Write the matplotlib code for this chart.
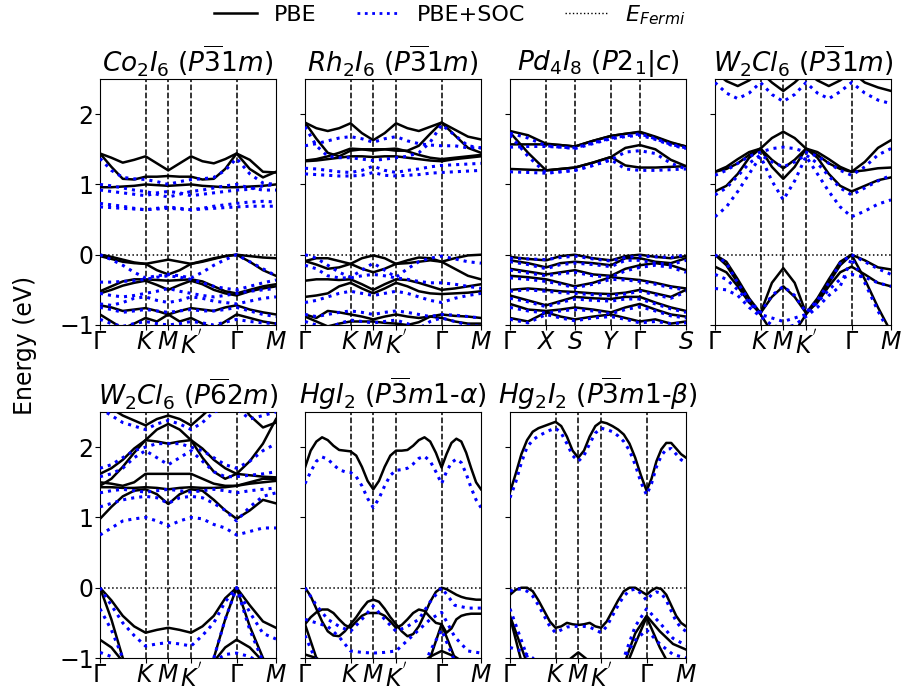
"""Band structures (PBE vs PBE+SOC) of seven layered halides, one panel each."""

import matplotlib.pyplot as plt
from matplotlib.lines import Line2D

# k-path sample positions: hexagonal G-K-M-K'-G-M and rectangular G-X-S-Y-G-S
HEX_K = [0, 0.25, 0.5, 0.75, 1, 1.25, 1.5, 1.75, 2, 2.25, 2.5, 2.75, 3, 3.29, 3.58, 3.866]
HEX_K_FINE = [0, 0.125, 0.25, 0.375, 0.5, 0.625, 0.75, 0.875, 1,
              1.125, 1.25, 1.375, 1.5, 1.625, 1.75, 1.875, 2,
              2.125, 2.25, 2.375, 2.5, 2.625, 2.75, 2.875, 3,
              3.108, 3.217, 3.325, 3.433, 3.541, 3.65, 3.758, 3.866]
HEX_TICKS = [0, 1, 1.5, 2, 3, 3.866]
HEX_LABELS = [r"$\Gamma$", r"$K$", r"$M$", r"$K^{'}$", r"$\Gamma$", r"$M$"]
RECT_K = [0, 0.5, 1, 1.4, 1.8, 2.3, 2.8, 3.2, 3.6, 4.03, 4.46, 4.88]
RECT_TICKS = [0, 1, 1.8, 2.8, 3.6, 4.88]
RECT_LABELS = [r"$\Gamma$", r"$X$", r"$S$", r"$Y$", r"$\Gamma$", r"$S$"]

# Co2I6 (P-31m)
CO2I6_PBE = [
    [1.44, 1.38, 1.31, 1.35, 1.40, 1.30, 1.20, 1.30, 1.40, 1.33, 1.30, 1.36, 1.44, 1.35, 1.18, 1.17],
    [1.44, 1.25, 1.08, 1.07, 1.11, 1.11, 1.12, 1.11, 1.11, 1.07, 1.08, 1.22, 1.44, 1.22, 1.10, 1.18],
    [0.96, 0.96, 0.97, 0.98, 1.00, 0.99, 0.98, 0.99, 1.00, 0.98, 0.97, 0.96, 0.96, 0.97, 0.98, 1.00],
    [0.00, -0.03, -0.07, -0.11, -0.13, -0.10, -0.07, -0.10, -0.13, -0.10, -0.06, -0.02, 0.00, -0.02, -0.04, -0.05],
    [-0.02, -0.06, -0.10, -0.12, -0.13, -0.22, -0.28, -0.22, -0.13, -0.09, -0.05, -0.02, 0.00, -0.10, -0.22, -0.30],
    [-0.52, -0.45, -0.38, -0.35, -0.35, -0.36, -0.37, -0.36, -0.35, -0.38, -0.45, -0.52, -0.55, -0.50, -0.45, -0.42],
    [-0.55, -0.50, -0.44, -0.40, -0.37, -0.43, -0.50, -0.43, -0.37, -0.42, -0.50, -0.55, -0.58, -0.52, -0.48, -0.45],
    [-0.72, -0.75, -0.80, -0.78, -0.76, -0.80, -0.85, -0.80, -0.76, -0.78, -0.80, -0.75, -0.72, -0.78, -0.82, -0.85],
    [-0.85, -0.95, -1.05, -0.98, -0.90, -0.95, -0.85, -0.95, -0.90, -0.98, -1.05, -0.95, -0.85, -0.90, -0.95, -0.98],
]
CO2I6_SOC = [
    [1.37, 1.20, 1.10, 1.08, 1.07, 1.04, 1.00, 1.04, 1.07, 1.08, 1.10, 1.20, 1.37, 1.15, 1.02, 1.00],
    [1.00, 0.98, 0.95, 0.92, 0.90, 0.86, 0.82, 0.86, 0.90, 0.92, 0.95, 0.98, 1.00, 0.95, 0.92, 0.92],
    [0.92, 0.90, 0.88, 0.86, 0.84, 0.88, 0.90, 0.88, 0.84, 0.86, 0.88, 0.90, 0.92, 0.93, 0.98, 1.00],
    [0.73, 0.71, 0.69, 0.66, 0.64, 0.66, 0.68, 0.66, 0.64, 0.66, 0.69, 0.71, 0.73, 0.75, 0.76, 0.75],
    [0.68, 0.67, 0.66, 0.65, 0.64, 0.65, 0.66, 0.65, 0.64, 0.65, 0.66, 0.67, 0.68, 0.69, 0.69, 0.69],
    [0.00, -0.07, -0.15, -0.25, -0.33, -0.30, -0.28, -0.30, -0.33, -0.25, -0.15, -0.07, 0.00, -0.10, -0.20, -0.30],
    [-0.39, -0.39, -0.38, -0.37, -0.35, -0.32, -0.30, -0.32, -0.35, -0.40, -0.45, -0.48, -0.50, -0.45, -0.40, -0.36],
    [-0.55, -0.58, -0.60, -0.58, -0.55, -0.52, -0.48, -0.52, -0.55, -0.58, -0.60, -0.58, -0.55, -0.52, -0.50, -0.48],
    [-0.70, -0.72, -0.68, -0.62, -0.60, -0.65, -0.68, -0.65, -0.60, -0.62, -0.66, -0.68, -0.70, -0.66, -0.62, -0.60],
    [-0.75, -0.78, -0.82, -0.80, -0.78, -0.80, -0.82, -0.80, -0.78, -0.80, -0.80, -0.78, -0.75, -0.80, -0.85, -0.88],
    [-0.92, -0.98, -1.02, -0.98, -0.95, -0.98, -1.00, -0.98, -0.95, -0.97, -1.00, -0.96, -0.92, -0.95, -0.97, -0.98],
]

# Rh2I6 (P-31m)
RH2I6_PBE = [
    [1.88, 1.80, 1.76, 1.80, 1.87, 1.73, 1.63, 1.73, 1.87, 1.80, 1.76, 1.82, 1.88, 1.78, 1.68, 1.64],
    [1.88, 1.65, 1.45, 1.40, 1.48, 1.50, 1.50, 1.50, 1.48, 1.48, 1.55, 1.72, 1.88, 1.70, 1.52, 1.45],
    [1.34, 1.36, 1.40, 1.45, 1.51, 1.50, 1.48, 1.50, 1.51, 1.47, 1.42, 1.38, 1.36, 1.38, 1.40, 1.42],
    [1.33, 1.34, 1.36, 1.38, 1.40, 1.40, 1.39, 1.40, 1.40, 1.38, 1.36, 1.34, 1.33, 1.36, 1.38, 1.40],
    [-0.09, -0.05, -0.05, -0.09, -0.13, -0.05, -0.01, -0.05, -0.13, -0.12, -0.10, -0.08, -0.10, -0.05, -0.01, 0.00],
    [-0.09, -0.14, -0.20, -0.18, -0.13, -0.20, -0.25, -0.20, -0.13, -0.08, -0.04, -0.05, -0.10, -0.20, -0.30, -0.35],
    [-0.37, -0.35, -0.35, -0.36, -0.35, -0.42, -0.50, -0.42, -0.35, -0.36, -0.40, -0.45, -0.50, -0.48, -0.45, -0.42],
    [-0.60, -0.58, -0.55, -0.45, -0.40, -0.48, -0.55, -0.48, -0.40, -0.45, -0.52, -0.55, -0.56, -0.55, -0.54, -0.52],
    [-0.85, -0.90, -0.80, -0.82, -0.85, -0.88, -0.92, -0.88, -0.85, -0.88, -0.90, -0.88, -0.85, -0.87, -0.88, -0.90],
    [-0.88, -0.95, -1.02, -0.98, -0.95, -0.95, -0.95, -0.97, -0.98, -1.00, -0.96, -0.88, -0.90, -0.95, -0.98, -0.98],
]
RH2I6_SOC = [
    [1.82, 1.55, 1.40, 1.38, 1.38, 1.36, 1.34, 1.36, 1.38, 1.40, 1.45, 1.60, 1.85, 1.70, 1.55, 1.52],
    [1.55, 1.58, 1.62, 1.66, 1.68, 1.65, 1.60, 1.65, 1.68, 1.62, 1.58, 1.56, 1.55, 1.55, 1.52, 1.52],
    [1.23, 1.22, 1.20, 1.18, 1.17, 1.20, 1.26, 1.20, 1.17, 1.20, 1.22, 1.25, 1.27, 1.28, 1.29, 1.30],
    [1.15, 1.14, 1.13, 1.12, 1.12, 1.13, 1.17, 1.13, 1.12, 1.13, 1.14, 1.16, 1.17, 1.18, 1.19, 1.20],
    [0.00, -0.05, -0.15, -0.25, -0.32, -0.22, -0.12, -0.22, -0.32, -0.20, -0.10, -0.05, -0.02, -0.06, -0.10, -0.12],
    [-0.15, -0.20, -0.30, -0.33, -0.33, -0.30, -0.28, -0.30, -0.33, -0.35, -0.38, -0.40, -0.40, -0.42, -0.45, -0.48],
    [-0.68, -0.65, -0.60, -0.55, -0.52, -0.55, -0.58, -0.55, -0.52, -0.55, -0.60, -0.65, -0.68, -0.62, -0.58, -0.55],
    [-0.85, -0.88, -0.85, -0.82, -0.80, -0.82, -0.85, -0.82, -0.80, -0.82, -0.85, -0.88, -0.85, -0.86, -0.88, -0.90],
    [-0.95, -1.00, -1.05, -0.98, -0.93, -0.95, -0.97, -0.95, -0.93, -0.98, -1.05, -0.95, -0.90, -0.95, -1.00, -1.02],
]

# Pd4I8 (P2_1/c), rectangular path
PD4I8_PBE = [
    [1.76, 1.70, 1.58, 1.56, 1.54, 1.62, 1.69, 1.72, 1.75, 1.68, 1.60, 1.54],
    [1.57, 1.57, 1.57, 1.56, 1.54, 1.62, 1.69, 1.72, 1.74, 1.67, 1.59, 1.54],
    [1.74, 1.45, 1.20, 1.22, 1.24, 1.31, 1.39, 1.52, 1.56, 1.50, 1.35, 1.26],
    [1.22, 1.21, 1.20, 1.22, 1.24, 1.31, 1.39, 1.27, 1.24, 1.24, 1.25, 1.26],
    [-0.03, -0.06, -0.08, -0.02, 0.00, -0.05, -0.08, -0.02, 0.00, -0.03, -0.05, -0.02],
    [-0.08, -0.12, -0.18, -0.12, -0.10, -0.12, -0.15, -0.05, -0.05, -0.10, -0.12, -0.05],
    [-0.20, -0.24, -0.28, -0.25, -0.22, -0.28, -0.30, -0.20, -0.15, -0.12, -0.15, -0.22],
    [-0.30, -0.32, -0.35, -0.40, -0.45, -0.40, -0.32, -0.34, -0.36, -0.40, -0.45, -0.48],
    [-0.50, -0.48, -0.50, -0.52, -0.53, -0.55, -0.56, -0.54, -0.50, -0.55, -0.60, -0.50],
    [-0.58, -0.65, -0.72, -0.66, -0.60, -0.62, -0.63, -0.60, -0.60, -0.68, -0.75, -0.80],
    [-0.70, -0.78, -0.80, -0.78, -0.75, -0.78, -0.82, -0.75, -0.70, -0.78, -0.85, -0.88],
    [-0.90, -0.95, -0.82, -0.88, -0.92, -0.88, -0.85, -0.90, -0.95, -0.92, -0.98, -0.95],
]
PD4I8_SOC = [
    [1.73, 1.66, 1.55, 1.53, 1.52, 1.59, 1.66, 1.69, 1.72, 1.65, 1.57, 1.52],
    [1.53, 1.54, 1.54, 1.53, 1.51, 1.58, 1.65, 1.68, 1.70, 1.64, 1.56, 1.51],
    [1.70, 1.40, 1.16, 1.18, 1.20, 1.27, 1.35, 1.46, 1.48, 1.44, 1.30, 1.22],
    [1.18, 1.17, 1.16, 1.18, 1.20, 1.27, 1.35, 1.22, 1.20, 1.20, 1.21, 1.22],
    [-0.05, -0.06, -0.07, -0.04, -0.02, -0.06, -0.09, -0.04, -0.02, -0.03, -0.04, 0.00],
    [-0.10, -0.14, -0.20, -0.14, -0.12, -0.14, -0.17, -0.08, -0.08, -0.12, -0.14, -0.08],
    [-0.22, -0.26, -0.30, -0.27, -0.25, -0.30, -0.32, -0.23, -0.18, -0.15, -0.18, -0.25],
    [-0.33, -0.35, -0.38, -0.42, -0.47, -0.42, -0.35, -0.36, -0.38, -0.42, -0.47, -0.50],
    [-0.52, -0.50, -0.52, -0.54, -0.55, -0.57, -0.58, -0.56, -0.52, -0.57, -0.62, -0.53],
    [-0.62, -0.67, -0.74, -0.68, -0.63, -0.65, -0.66, -0.63, -0.63, -0.70, -0.77, -0.82],
    [-0.75, -0.80, -0.83, -0.80, -0.78, -0.80, -0.84, -0.78, -0.74, -0.80, -0.87, -0.90],
    [-0.92, -0.97, -0.85, -0.90, -0.94, -0.90, -0.88, -0.92, -0.97, -0.95, -0.98, -0.97],
]

# W2Cl6 (P-31m)
W2CL6_A_PBE = [
    [2.60, 2.47, 2.40, 2.48, 2.60, 2.45, 2.33, 2.45, 2.60, 2.48, 2.40, 2.48, 2.60, 2.45, 2.38, 2.33],
    [1.18, 1.25, 1.36, 1.46, 1.51, 1.66, 1.75, 1.66, 1.51, 1.46, 1.36, 1.25, 1.18, 1.32, 1.52, 1.63],
    [1.18, 1.22, 1.30, 1.42, 1.51, 1.35, 1.23, 1.35, 1.51, 1.42, 1.30, 1.22, 1.18, 1.20, 1.23, 1.24],
    [0.90, 0.98, 1.15, 1.38, 1.51, 1.25, 1.08, 1.25, 1.51, 1.38, 1.15, 0.98, 0.90, 0.98, 1.06, 1.10],
    [0.00, -0.10, -0.35, -0.62, -0.83, -0.40, -0.19, -0.40, -0.83, -0.62, -0.35, -0.10, 0.00, -0.08, -0.18, -0.21],
    [-0.17, -0.25, -0.45, -0.68, -0.83, -0.60, -0.45, -0.60, -0.83, -0.68, -0.45, -0.25, -0.17, -0.28, -0.40, -0.45],
    [0.00, -0.15, -0.40, -0.65, -0.85, -1.10, -1.25, -1.10, -0.85, -0.65, -0.40, -0.15, 0.00, -0.35, -0.75, -1.10],
]
W2CL6_A_SOC = [
    [2.45, 2.30, 2.22, 2.30, 2.45, 2.28, 2.18, 2.28, 2.45, 2.30, 2.22, 2.32, 2.45, 2.30, 2.20, 2.15],
    [1.13, 1.20, 1.30, 1.40, 1.46, 1.51, 1.53, 1.51, 1.46, 1.40, 1.30, 1.20, 1.13, 1.25, 1.42, 1.51],
    [0.85, 0.95, 1.12, 1.30, 1.42, 1.32, 1.25, 1.32, 1.42, 1.30, 1.12, 0.95, 0.85, 0.95, 1.05, 1.13],
    [0.54, 0.68, 0.90, 1.15, 1.40, 1.05, 0.78, 1.05, 1.40, 1.15, 0.90, 0.68, 0.54, 0.62, 0.72, 0.78],
    [0.00, -0.12, -0.40, -0.65, -0.82, -0.58, -0.45, -0.58, -0.82, -0.65, -0.40, -0.12, 0.00, -0.10, -0.20, -0.28],
    [-0.28, -0.35, -0.50, -0.68, -0.85, -0.90, -0.95, -0.90, -0.85, -0.68, -0.50, -0.35, -0.28, -0.32, -0.40, -0.45],
    [-0.48, -0.50, -0.58, -0.75, -0.88, -1.00, -1.05, -1.00, -0.88, -0.75, -0.58, -0.45, -0.05, -0.40, -0.80, -1.15],
]

# W2Cl6 (P-62m)
W2CL6_B_PBE = [
    [2.60, 2.55, 2.45, 2.38, 2.31, 2.40, 2.45, 2.40, 2.31, 2.45, 2.60, 2.70, 2.70, 2.45, 2.28, 2.35],
    [1.62, 1.70, 1.82, 1.98, 2.10, 2.25, 2.33, 2.25, 2.10, 1.98, 1.82, 1.70, 1.62, 1.80, 2.05, 2.40],
    [1.45, 1.55, 1.72, 1.92, 2.10, 2.08, 2.05, 2.08, 2.10, 1.85, 1.65, 1.55, 1.62, 1.60, 1.58, 1.57],
    [1.50, 1.48, 1.45, 1.50, 1.62, 1.62, 1.62, 1.62, 1.62, 1.55, 1.48, 1.45, 1.45, 1.50, 1.55, 1.55],
    [1.43, 1.43, 1.42, 1.42, 1.43, 1.42, 1.40, 1.42, 1.43, 1.42, 1.42, 1.43, 1.45, 1.48, 1.50, 1.52],
    [0.98, 1.15, 1.30, 1.38, 1.40, 1.33, 1.19, 1.33, 1.40, 1.38, 1.25, 1.10, 0.98, 1.10, 1.25, 1.20],
    [0.00, -0.18, -0.40, -0.55, -0.64, -0.60, -0.57, -0.60, -0.64, -0.55, -0.40, -0.15, 0.00, -0.25, -0.48, -0.57],
    [0.00, -0.45, -1.00, -1.30, -1.50, -1.50, -1.50, -1.50, -1.50, -1.30, -1.00, -0.45, 0.00, -0.55, -1.00, -1.30],
    [-0.74, -0.85, -1.05, -1.20, -1.30, -1.30, -1.30, -1.30, -1.30, -1.20, -1.05, -0.85, -0.74, -0.85, -1.05, -1.20],
]
W2CL6_B_SOC = [
    [2.55, 2.45, 2.35, 2.30, 2.25, 2.33, 2.38, 2.33, 2.25, 2.35, 2.50, 2.55, 2.55, 2.40, 2.45, 2.50],
    [1.70, 1.75, 1.85, 1.95, 2.00, 2.05, 2.05, 2.05, 2.00, 1.95, 1.85, 1.75, 1.70, 1.80, 1.95, 2.05],
    [1.58, 1.62, 1.70, 1.85, 1.95, 1.85, 1.75, 1.85, 1.95, 1.80, 1.65, 1.58, 1.58, 1.60, 1.62, 1.65],
    [1.35, 1.38, 1.40, 1.38, 1.36, 1.38, 1.40, 1.38, 1.36, 1.38, 1.40, 1.38, 1.35, 1.38, 1.40, 1.42],
    [1.15, 1.20, 1.25, 1.28, 1.30, 1.28, 1.20, 1.28, 1.30, 1.28, 1.20, 1.10, 0.95, 1.15, 1.30, 1.35],
    [0.75, 0.85, 0.95, 0.98, 1.00, 0.95, 0.88, 0.95, 1.00, 0.98, 0.90, 0.85, 0.75, 0.80, 0.85, 0.85],
    [0.00, -0.25, -0.50, -0.68, -0.83, -0.80, -0.78, -0.80, -0.83, -0.68, -0.50, -0.20, 0.00, -0.35, -0.65, -0.73],
    [-0.30, -0.60, -1.00, -1.30, -1.50, -1.50, -1.50, -1.50, -1.50, -1.30, -1.00, -0.45, 0.00, -0.60, -1.05, -1.30],
    [-0.92, -0.98, -1.20, -1.30, -1.30, -1.30, -1.30, -1.30, -1.30, -1.20, -1.05, -0.95, -0.93, -0.98, -1.10, -1.20],
]

# HgI2 (P-3m1, alpha): outer bands on the fine k grid, deeper ones on the coarse grid
HGI2_PBE_FINE = [
    [1.71, 1.95, 2.08, 2.14, 2.10, 2.02, 1.96, 1.95, 1.94, 1.88, 1.72, 1.52, 1.40, 1.52, 1.72, 1.88, 1.95,
     1.95, 1.96, 2.02, 2.10, 2.14, 2.08, 1.92, 1.71, 1.90, 2.06, 2.12, 2.08, 1.92, 1.70, 1.50, 1.40],
    [0.00, -0.12, -0.30, -0.48, -0.62, -0.68, -0.69, -0.62, -0.52, -0.42, -0.30, -0.20, -0.17, -0.20, -0.30, -0.42, -0.52,
     -0.62, -0.69, -0.66, -0.55, -0.38, -0.20, -0.06, 0.00, -0.02, -0.06, -0.10, -0.13, -0.15, -0.16, -0.17, -0.17],
    [-0.52, -0.42, -0.35, -0.31, -0.31, -0.36, -0.45, -0.53, -0.57, -0.48, -0.40, -0.36, -0.36, -0.36, -0.40, -0.48, -0.57,
     -0.53, -0.45, -0.36, -0.31, -0.33, -0.42, -0.50, -0.52, -0.64, -0.58, -0.45, -0.40, -0.38, -0.37, -0.37, -0.37],
]
HGI2_SOC_FINE = [
    [1.48, 1.65, 1.80, 1.86, 1.83, 1.75, 1.68, 1.65, 1.64, 1.58, 1.45, 1.27, 1.14, 1.27, 1.45, 1.60, 1.67,
     1.68, 1.70, 1.76, 1.84, 1.87, 1.80, 1.65, 1.48, 1.65, 1.78, 1.83, 1.78, 1.62, 1.42, 1.25, 1.14],
]
HGI2_PBE = [
    [-0.52, -1.00, -1.30, -1.40, -1.40, -1.40, -1.40, -1.40, -1.40, -1.40, -1.30, -1.00, -0.52, -1.00, -1.30, -1.40],
    [-0.95, -1.00, -1.10, -1.20, -1.20, -1.20, -1.20, -1.20, -1.20, -1.20, -1.10, -0.98, -0.90, -0.98, -1.10, -1.20],
]
HGI2_SOC = [
    [0.00, -0.25, -0.45, -0.55, -0.62, -0.45, -0.26, -0.45, -0.62, -0.55, -0.45, -0.20, 0.00, -0.25, -0.29, -0.29],
    [-0.45, -0.50, -0.55, -0.70, -0.90, -0.92, -0.93, -0.92, -0.90, -0.75, -0.60, -0.45, -0.35, -0.70, -0.90, -0.93],
    [-0.68, -1.05, -1.30, -1.40, -1.40, -1.40, -1.40, -1.40, -1.40, -1.40, -1.30, -0.90, -0.60, -1.05, -1.30, -1.40],
]

# Hg2I2 (P-3m1, beta)
HG2I2_PBE_FINE = [
    [1.36, 1.62, 1.90, 2.10, 2.22, 2.27, 2.30, 2.33, 2.36, 2.30, 2.15, 1.95, 1.85, 1.95, 2.15, 2.30, 2.36,
     2.34, 2.30, 2.25, 2.18, 2.05, 1.85, 1.60, 1.38, 1.55, 1.80, 1.97, 2.06, 2.06, 1.98, 1.90, 1.85],
    [-0.10, -0.03, 0.00, 0.00, -0.05, -0.18, -0.33, -0.48, -0.57, -0.55, -0.50, -0.52, -0.53, -0.52, -0.50, -0.55, -0.57,
     -0.48, -0.33, -0.18, -0.05, 0.00, 0.00, -0.05, -0.10, -0.04, 0.00, -0.02, -0.10, -0.25, -0.40, -0.50, -0.55],
]
HG2I2_SOC_FINE = [
    [1.28, 1.50, 1.78, 2.00, 2.10, 2.16, 2.20, 2.24, 2.27, 2.20, 2.05, 1.88, 1.80, 1.88, 2.05, 2.20, 2.27,
     2.25, 2.22, 2.16, 2.08, 1.95, 1.75, 1.50, 1.32, 1.48, 1.72, 1.88, 1.97, 1.98, 1.90, 1.82, 1.78],
    [-0.05, -0.02, -0.02, -0.05, -0.12, -0.25, -0.40, -0.55, -0.64, -0.60, -0.56, -0.55, -0.55, -0.55, -0.56, -0.60, -0.64,
     -0.55, -0.40, -0.25, -0.12, -0.04, -0.02, -0.08, -0.18, -0.10, -0.06, -0.08, -0.18, -0.33, -0.48, -0.57, -0.62],
]
HG2I2_PBE = [
    [-0.40, -0.85, -1.30, -1.60, -1.80, -1.80, -1.80, -1.80, -1.80, -1.50, -1.10, -0.65, -0.40, -0.62, -0.80, -0.88],
    [-0.42, -1.05, -1.50, -1.70, -1.80, -1.80, -1.80, -1.80, -1.80, -1.60, -1.20, -0.80, -0.42, -0.85, -1.20, -1.50],
    [-1.50, -1.40, -1.30, -1.25, -1.20, -1.05, -0.92, -1.05, -1.20, -1.25, -1.30, -1.40, -1.50, -1.40, -1.30, -1.25],
]
HG2I2_SOC = [
    [-0.30, -0.75, -1.20, -1.50, -1.70, -1.70, -1.70, -1.70, -1.70, -1.40, -1.00, -0.55, -0.30, -0.50, -0.72, -0.82],
    [-0.85, -0.90, -1.00, -1.20, -1.30, -1.30, -1.30, -1.30, -1.30, -1.20, -1.00, -0.75, -0.60, -0.80, -0.95, -1.00],
]

TITLES = [
    r"$Co_2I_6$ ($P\overline{3}1m$)",
    r"$Rh_2I_6$ ($P\overline{3}1m$)",
    r"$Pd_4I_8$ ($P2_1|c$)",
    r"$W_2Cl_6$ ($P\overline{3}1m$)",
    r"$W_2Cl_6$ ($P\overline{6}2m$)",
    r"$HgI_2$ ($P\overline{3}m1$-$\alpha$)",
    r"$Hg_2I_2$ ($P\overline{3}m1$-$\beta$)",
]

# (PBE bands, SOC bands, fine-grid PBE bands, fine-grid SOC bands, path)
panels = [
    (CO2I6_PBE, CO2I6_SOC, [], [], "hex"),
    (RH2I6_PBE, RH2I6_SOC, [], [], "hex"),
    (PD4I8_PBE, PD4I8_SOC, [], [], "rect"),
    (W2CL6_A_PBE, W2CL6_A_SOC, [], [], "hex"),
    (W2CL6_B_PBE, W2CL6_B_SOC, [], [], "hex"),
    (HGI2_PBE, HGI2_SOC, HGI2_PBE_FINE, HGI2_SOC_FINE, "hex"),
    (HG2I2_PBE, HG2I2_SOC, HG2I2_PBE_FINE, HG2I2_SOC_FINE, "hex"),
]

FS = 17
plt.rcParams["font.size"] = FS

fig = plt.figure(figsize=(9.03, 6.91), dpi=100, facecolor="white")

W, H = 903, 691
lefts = [100, 305, 510, 715]
tops = [79, 412]
pw, ph = 176, 246

pbe_style = dict(color="black", linewidth=1.8, zorder=3)
soc_style = dict(color="blue", linestyle=":", linewidth=2.2, zorder=4)

for i, (pbe, soc, pbe_fine, soc_fine, path) in enumerate(panels):
    row, col = divmod(i, 4)
    ax = fig.add_axes([lefts[col] / W, (H - tops[row] - ph) / H, pw / W, ph / H])
    if path == "hex":
        kx, ticks, labels = HEX_K, HEX_TICKS, HEX_LABELS
    else:
        kx, ticks, labels = RECT_K, RECT_TICKS, RECT_LABELS

    for band in pbe:
        ax.plot(kx, band, **pbe_style)
    for band in pbe_fine:
        ax.plot(HEX_K_FINE, band, **pbe_style)
    for band in soc:
        ax.plot(kx, band, **soc_style)
    for band in soc_fine:
        ax.plot(HEX_K_FINE, band, **soc_style)

    for t in ticks[1:-1]:
        ax.axvline(t, color="black", linestyle="--", linewidth=1.1, zorder=2)
    ax.axhline(0, color="black", linestyle=":", linewidth=1.1, zorder=2)

    ax.set_xlim(ticks[0], ticks[-1])
    ax.set_ylim(-1, 2.5)
    ax.set_xticks(ticks)
    ax.set_xticklabels(labels)
    ax.set_yticks([-1, 0, 1, 2])
    if col != 0:
        ax.set_yticklabels([])
    ax.tick_params(axis="y", labelsize=FS, pad=1)
    ax.tick_params(axis="x", labelsize=FS, pad=0)
    ax.set_title(TITLES[i], fontsize=FS + 2, pad=4)

fig.text(25 / W, 0.5, "Energy (eV)", rotation=90, ha="center", va="center", fontsize=FS)

handles = [
    Line2D([], [], color="black", linewidth=1.8),
    Line2D([], [], color="blue", linestyle=":", linewidth=2.0),
    Line2D([], [], color="black", linestyle=":", linewidth=1.0),
]
fig.legend(handles, ["PBE", "PBE+SOC", r"$E_{Fermi}$"], loc="center",
           bbox_to_anchor=(450 / W, 1 - 15 / H), ncol=3, frameon=False,
           fontsize=FS - 1, columnspacing=1.8, handlelength=1.9, handletextpad=0.8)

fig.savefig("out.png", dpi=100, facecolor="white")
